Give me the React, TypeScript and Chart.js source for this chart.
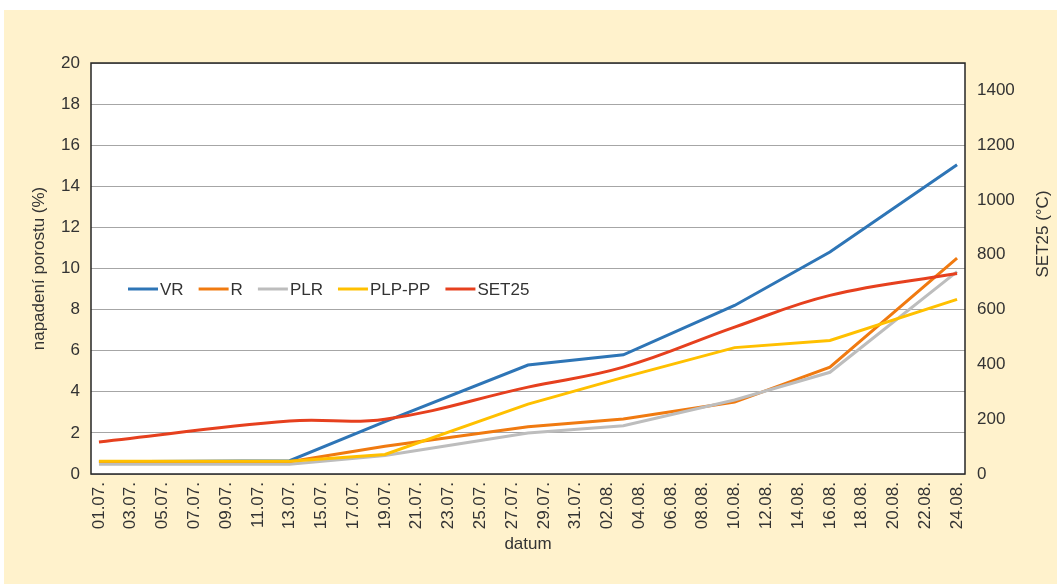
import React, { useEffect, useRef } from 'react';
import { Chart, registerables } from 'chart.js';

Chart.register(...registerables);

// Category axis: every day from 01.07. to 24.08.
const dates = [
  '01.07.', '02.07.', '03.07.', '04.07.', '05.07.', '06.07.', '07.07.', '08.07.', '09.07.', '10.07.',
  '11.07.', '12.07.', '13.07.', '14.07.', '15.07.', '16.07.', '17.07.', '18.07.', '19.07.', '20.07.',
  '21.07.', '22.07.', '23.07.', '24.07.', '25.07.', '26.07.', '27.07.', '28.07.', '29.07.', '30.07.',
  '31.07.', '01.08.', '02.08.', '03.08.', '04.08.', '05.08.', '06.08.', '07.08.', '08.08.', '09.08.',
  '10.08.', '11.08.', '12.08.', '13.08.', '14.08.', '15.08.', '16.08.', '17.08.', '18.08.', '19.08.',
  '20.08.', '21.08.', '22.08.', '23.08.', '24.08.',
];

// Observation dates
const obsDates = ['01.07.', '13.07.', '19.07.', '28.07.', '03.08.', '10.08.', '16.08.', '24.08.'];

// Series (napadení porostu, %)
const vr = [0.6, 0.65, 2.55, 5.3, 5.8, 8.2, 10.8, 15.05];
const r = [0.6, 0.6, 1.35, 2.3, 2.68, 3.5, 5.2, 10.5];
const plr = [0.48, 0.48, 0.9, 2.0, 2.35, 3.6, 4.95, 9.85];
const plpPp = [0.62, 0.62, 0.95, 3.4, 4.7, 6.15, 6.5, 8.5];
// SET25 (°C), secondary axis
const set25 = [117, 193, 200, 317, 390, 536, 652, 732];

const seriesNames = ['VR', 'R', 'PLR', 'PLP-PP', 'SET25'];
const seriesColors = ['#2E75B6', '#F07A10', '#BDBDBD', '#FFC000', '#E6401E'];

const leftTitle = 'napadení porostu (%)';
const rightTitle = 'SET25 (°C)';
const xTitle = 'datum';

const FONT = "'Liberation Sans', Arial, sans-serif";
const TEXT = '#333333';

const pts = (vals: number[]) => obsDates.map((d, i) => ({ x: d, y: vals[i] }));

export default function App() {
  const ref = useRef<HTMLCanvasElement | null>(null);

  useEffect(() => {
    if (!ref.current) return;
    Chart.defaults.font.family = FONT;
    Chart.defaults.color = TEXT;

    const framePlugin = {
      id: 'framePlugin',
      beforeDraw(chart: any) {
        const { ctx, chartArea: a } = chart;
        ctx.save();
        ctx.fillStyle = '#ffffff';
        ctx.fillRect(a.left, a.top, a.right - a.left, a.bottom - a.top);
        ctx.restore();
      },
      afterDraw(chart: any) {
        const { ctx, chartArea: a } = chart;
        ctx.save();
        // plot border
        ctx.strokeStyle = '#262626';
        ctx.lineWidth = 1.5;
        ctx.strokeRect(a.left, a.top, a.right - a.left, a.bottom - a.top);

        // legend inside plot
        ctx.font = `17px ${FONT}`;
        ctx.textBaseline = 'middle';
        ctx.textAlign = 'left';
        let x = a.left + 37;
        const y = a.top + 226;
        seriesNames.forEach((name, i) => {
          ctx.strokeStyle = seriesColors[i];
          ctx.lineWidth = 3;
          ctx.beginPath();
          ctx.moveTo(x, y);
          ctx.lineTo(x + 30, y);
          ctx.stroke();
          ctx.fillStyle = TEXT;
          ctx.fillText(name, x + 32, y + 1);
          x += 32 + ctx.measureText(name).width + 15;
        });

        // right axis title, reading bottom to top
        ctx.translate(chart.width - 14, 224);
        ctx.rotate(-Math.PI / 2);
        ctx.textAlign = 'center';
        ctx.fillStyle = TEXT;
        ctx.fillText(rightTitle, 0, 0);
        ctx.restore();
      },
    };

    const mk = (label: string, vals: number[], color: string, order: number, yAxisID: string, tension: number) => ({
      label,
      data: pts(vals),
      borderColor: color,
      backgroundColor: color,
      borderWidth: 3,
      pointRadius: 0,
      pointHoverRadius: 0,
      tension,
      order,
      yAxisID,
      fill: false,
    });

    const chart = new Chart(ref.current, {
      type: 'line',
      data: {
        labels: dates,
        datasets: [
          mk(seriesNames[0], vr, seriesColors[0], 5, 'y', 0),
          mk(seriesNames[1], r, seriesColors[1], 4, 'y', 0),
          mk(seriesNames[2], plr, seriesColors[2], 3, 'y', 0),
          mk(seriesNames[3], plpPp, seriesColors[3], 2, 'y', 0),
          mk(seriesNames[4], set25, seriesColors[4], 1, 'y1', 0.4),
        ] as any,
      },
      plugins: [framePlugin],
      options: {
        animation: false,
        responsive: false,
        events: [],
        layout: { padding: { top: 53, bottom: 25, left: 0, right: 0 } },
        plugins: {
          legend: { display: false },
          tooltip: { enabled: false },
        },
        scales: {
          x: {
            type: 'category',
            offset: true,
            grid: { display: false, drawTicks: false },
            border: { display: false },
            ticks: {
              autoSkip: false,
              minRotation: 90,
              maxRotation: 90,
              padding: 8,
              color: TEXT,
              font: { size: 17, family: FONT },
              callback: (_v: any, i: number) => (i % 2 === 0 ? dates[i] : ''),
            },
            title: {
              display: true,
              text: xTitle,
              color: TEXT,
              font: { size: 17, family: FONT },
              padding: { top: 0, bottom: 4 },
            },
            afterFit: (s: any) => { s.height = 85; },
          },
          y: {
            type: 'linear',
            position: 'left',
            min: 0,
            max: 20,
            grid: { color: '#A6A6A6', lineWidth: 1, drawTicks: false },
            border: { display: false },
            ticks: {
              stepSize: 2,
              padding: 11,
              color: TEXT,
              font: { size: 17, family: FONT },
              callback: (v: any) => String(v),
            },
            title: {
              display: true,
              text: leftTitle,
              color: TEXT,
              font: { size: 17, family: FONT },
              padding: { top: 25, bottom: 0 },
            },
            afterFit: (s: any) => { s.width = 87; },
          },
          y1: {
            type: 'linear',
            position: 'right',
            min: 0,
            max: 1500,
            grid: { display: false, drawTicks: false },
            border: { display: false },
            ticks: {
              stepSize: 200,
              includeBounds: false,
              padding: 12,
              color: TEXT,
              font: { size: 17, family: FONT },
              callback: (v: any) => String(v),
            },
            afterFit: (s: any) => { s.width = 92; },
          },
        },
      } as any,
    });

    return () => chart.destroy();
  }, []);

  return (
    <div style={{ position: 'fixed', left: 0, top: 0, width: 1057, height: 584, background: '#ffffff' }}>
      <div style={{ position: 'absolute', left: 4, top: 10, width: 1053, height: 574, background: '#FFF2CC' }}>
        <canvas ref={ref} width={1053} height={574} style={{ display: 'block', width: 1053, height: 574 }} />
      </div>
    </div>
  );
}
